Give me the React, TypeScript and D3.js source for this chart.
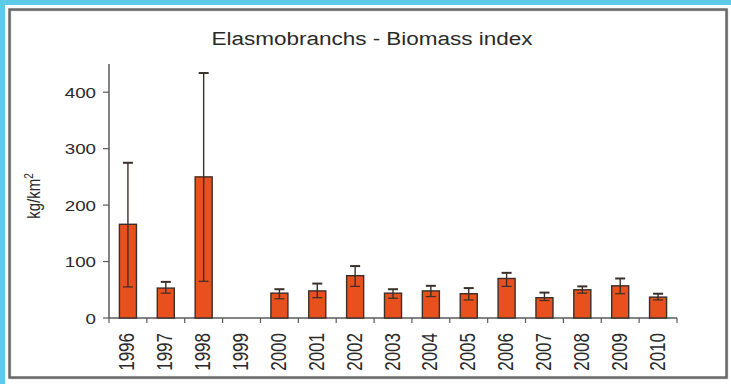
import { useMemo } from 'react';
import * as d3 from 'd3';

const years = ['1996', '1997', '1998', '1999', '2000', '2001', '2002', '2003', '2004', '2005', '2006', '2007', '2008', '2009', '2010'];
const biomass: (number | null)[] = [166, 53, 250, null, 44, 48, 75, 44, 48, 43, 70, 36, 50, 57, 37];
const errLow: (number | null)[] = [55, 44, 65, null, 34, 36, 56, 35, 38, 32, 56, 31, 44, 43, 32];
const errHigh: (number | null)[] = [275, 64, 434, null, 51, 61, 92, 51, 57, 53, 80, 45, 56, 70, 43];
const yTicks = [0, 100, 200, 300, 400];

const W = 731;
const H = 384;
const SX = 1.25; // the source image is stretched horizontally
const FONT = 'Liberation Sans, Arial, sans-serif';
const BAR = '#e8501e';
const INK = '#3b2f2a';
const AXIS = '#5a5a5a';
const TXT = '#2a2a2a';

export default function App() {
    const x = useMemo(() => d3.scaleBand<string>()
        .domain(years)
        .range([109, 677])
        .paddingInner(0.55)
        .paddingOuter(0.275), []);

    const y = useMemo(() => d3.scaleLinear()
        .domain([0, 450])
        .range([318, 64]), []);

    const step = x.step();
    const x0 = x.range()[0];
    const bw = x.bandwidth();
    const cap = 5;

    return (
        <svg width={W} height={H} style={{ position: 'fixed', left: 0, top: 0, display: 'block' }}
            fontFamily={FONT}>
            {/* frame */}
            <rect x={0} y={0} width={W} height={H} fill="#5ccbe6" />
            <rect x={5} y={5} width={W - 5} height={H - 5} fill="#ffffff" />
            <rect x={10.5} y={10.5} width={717} height={368} fill="none" stroke="#c8c8c8" strokeWidth={1.5} />
            <rect x={9.5} y={9.5} width={717} height={368} fill="none" stroke="#6a6a6a" strokeWidth={2.5} />

            {/* title */}
            <text transform={`translate(372,45) scale(${SX},1)`} textAnchor="middle" fontSize={18} fill={TXT}>
                Elasmobranchs - Biomass index
            </text>

            {/* y axis label */}
            <text transform={`translate(40,196) scale(${SX},1) rotate(-90)`} textAnchor="middle" fontSize={15} fill={TXT}>
                kg/km<tspan fontSize={10} dy={-6}>2</tspan>
            </text>

            {/* y axis */}
            <line x1={x0} x2={x0} y1={y(450)} y2={y(0)} stroke={AXIS} strokeWidth={1.5} />
            {yTicks.map(t => (
                <g key={t}>
                    <line x1={x0 - 6} x2={x0} y1={y(t)} y2={y(t)} stroke={AXIS} strokeWidth={1.2} />
                    <text transform={`translate(${x0 - 13},${y(t) + 5.5}) scale(${SX},1)`} textAnchor="end"
                        fontSize={15} fill={TXT}>{t}</text>
                </g>
            ))}

            {/* x axis */}
            <line x1={x0} x2={x.range()[1]} y1={y(0)} y2={y(0)} stroke={AXIS} strokeWidth={1.5} />
            {d3.range(years.length + 1).map(i => (
                <line key={i} x1={x0 + i * step} x2={x0 + i * step} y1={y(0)} y2={y(0) + 5}
                    stroke={AXIS} strokeWidth={1.2} />
            ))}
            {years.map(yr => {
                const cx = (x(yr) ?? 0) + bw / 2;
                return (
                    <text key={yr} transform={`translate(${cx + 6.5},${y(0) + 15}) scale(${SX},1) rotate(-90)`}
                        textAnchor="end" fontSize={17} fill={TXT}>{yr}</text>
                );
            })}

            {/* bars */}
            {years.map((yr, i) => {
                const v = biomass[i];
                if (v == null) return null;
                const bx = x(yr) ?? 0;
                return (
                    <rect key={yr} x={bx} y={y(v)} width={bw} height={y(0) - y(v)}
                        fill={BAR} stroke={INK} strokeWidth={1.4} />
                );
            })}

            {/* error bars */}
            {years.map((yr, i) => {
                const lo = errLow[i];
                const hi = errHigh[i];
                if (lo == null || hi == null) return null;
                const cx = (x(yr) ?? 0) + bw / 2;
                return (
                    <g key={yr} stroke={INK} strokeWidth={1.4}>
                        <line x1={cx} x2={cx} y1={y(lo)} y2={y(hi)} />
                        <line x1={cx - cap} x2={cx + cap} y1={y(hi)} y2={y(hi)} strokeWidth={2} />
                        <line x1={cx - cap} x2={cx + cap} y1={y(lo)} y2={y(lo)} strokeWidth={1.2} />
                    </g>
                );
            })}
        </svg>
    );
}
